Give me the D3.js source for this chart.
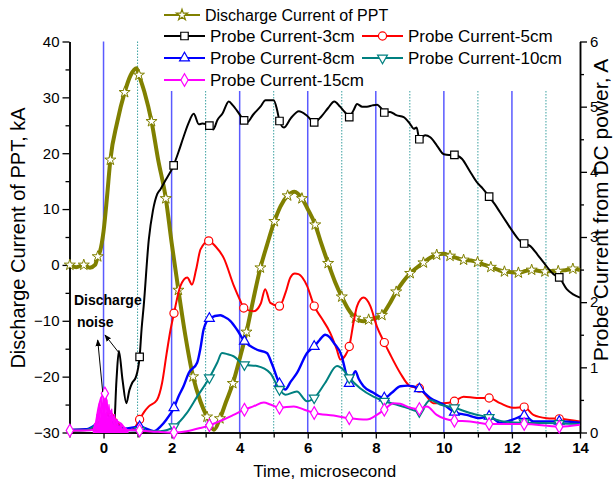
<!DOCTYPE html>
<html><head><meta charset="utf-8">
<script src="https://cdn.jsdelivr.net/npm/d3@7"></script>
<style>body{margin:0;background:#fff} svg{display:block;font-family:"Liberation Sans",Arial,sans-serif}</style>
</head><body><svg id="c" width="613" height="485"></svg>
<script>
// ---- data (time in microseconds) ----
const xTickLabels = [0, 2, 4, 6, 8, 10, 12, 14];
const leftTicks = [-30, -20, -10, 0, 10, 20, 30, 40];
const rightTicks = [0, 1, 2, 3, 4, 5, 6];
const evenTimes = [0, 2, 4, 6, 8, 10, 12];
const oddTimes = [1, 3, 5, 7, 9, 11, 13];
const seriesNames = ["Discharge Current of PPT", "Probe Current-3cm", "Probe Current-5cm",
  "Probe Current-8cm", "Probe Current-10cm", "Probe Current-15cm"];
const annotationText = ["Discharge", "noise"];
const xTitle = "Time, microsecond";
const yLeftTitle = "Discharge Current of PPT, kA";
const yRightTitle = "Probe Current from DC power, A";

// [time, value, marker]
const pptCurrent = [[-1,0.2],[-0.99,0,1],[-0.8,-0.4],[-0.58,0,1],[-0.4,-0.5],[-0.25,0],[-0.17,1.5,1],[-0.1,2.5],
 [0,6],[0.1,12],[0.2,18.8,1],[0.4,25.5],[0.62,30.9,1],[0.8,34],[0.97,35.2],[1.04,34,1],[1.2,31],[1.41,25.7,1],
 [1.6,19],[1.83,11.9,1],[2.0,4],[2.2,-4.5,1],[2.4,-12.5],[2.63,-20,1],[2.85,-24.5],[3.04,-27.2,1],[3.25,-29.5],
 [3.42,-27.5,1],[3.6,-24.5],[3.8,-21.2,1],[4.0,-16.8],[4.2,-12,1],[4.4,-6.2],[4.61,-0.5,1],[4.8,3.5],[5.02,7.8,1],
 [5.2,10.5],[5.41,12.4,1],[5.61,13.1],[5.83,11.9,1],[6.0,10],[6.22,7.2,1],[6.4,3.8],[6.6,0.3,1],[6.8,-3],
 [7.0,-5.7,1],[7.2,-8],[7.4,-9.5,1],[7.64,-10.1],[7.79,-9.8,1],[8.0,-9.5],[8.18,-9,1],[8.4,-7],[8.6,-4.8,1],
 [8.8,-3],[9.01,-1.5,1],[9.2,-0.5],[9.4,0.4,1],[9.6,1.3],[9.79,1.8,1],[10.0,2],[10.18,1.6,1],[10.4,1.2],
 [10.58,0.9,1],[10.8,0.8],[10.99,0.5,1],[11.2,0],[11.38,-0.4,1],[11.6,-0.9],[11.78,-1.2,1],[12.0,-1.3],
 [12.19,-1.4,1],[12.4,-1.1],[12.58,-0.9,1],[12.8,-1.1],[12.97,-1.2,1],[13.2,-1.1],[13.36,-1.1,1],[13.6,-0.9],
 [13.79,-0.7,1],[14,-0.9]];

const probe3cm = [[-1,0.04],[-0.5,0.05],[-0.2,0.06],[0,0.1],[0.1,0.3],[0.2,0.15],[0.3,0.02],[0.38,0.8],[0.45,1.25],
 [0.56,0.8],[0.67,0.45],[0.76,0.65],[0.84,0.76],[0.95,0.85],[1.06,1.16,1],[1.12,1.6],[1.18,1.94],[1.33,2.96],
 [1.45,3.4],[1.58,3.66],[1.67,3.73],[1.8,3.85],[2.06,4.1,1],[2.2,4.3],[2.36,4.55],[2.5,4.75],[2.65,4.89],[2.8,4.73],
 [2.9,4.74],[3.11,4.71,1],[3.22,4.65],[3.35,4.8],[3.5,4.9],[3.68,5.08],[3.8,5.02],[3.92,4.94],[4.13,4.79,1],
 [4.22,4.76],[4.4,4.88],[4.61,5.0],[4.76,5.1],[5.0,5.1],[5.1,4.95],[5.17,4.78,1],[5.3,4.68],[5.5,4.82],[5.74,4.93],
 [5.98,4.86],[6.19,4.76,1],[6.4,4.85],[6.6,4.98],[6.78,5.08],[6.95,5.0],[7.1,4.91],[7.22,4.84,1],[7.35,4.95],
 [7.45,5.04],[7.6,5.0],[7.74,5.0],[7.9,5.02],[8.04,5.03],[8.15,4.98],[8.25,4.91,1],[8.42,4.92],[8.6,4.87],
 [8.82,4.84],[9.0,4.74],[9.12,4.66],[9.2,4.68],[9.28,4.5,1],[9.45,4.56],[9.6,4.53],[9.8,4.4],[10.0,4.27],
 [10.15,4.26],[10.31,4.26,1],[10.53,4.2],[10.75,4.02],[10.97,3.84],[11.15,3.74],[11.33,3.62,1],[11.5,3.5],
 [11.65,3.38],[11.85,3.22],[12.04,3.07],[12.2,2.96],[12.36,2.9,1],[12.54,2.86],[12.75,2.73],[12.93,2.61],
 [13.22,2.43],[13.39,2.38,1],[13.61,2.2],[13.8,2.12],[14,2.07]];

const probe5cm = [[-1,0.03],[-0.5,0.04],[-0.2,0.05],[0.05,0.25],[0.2,0.3],[0.4,0.17],[0.6,0.06],[0.8,0.04],
 [0.95,0.1],[1.06,0.2,1],[1.2,0.32],[1.33,0.4],[1.57,0.5],[1.72,0.76],[1.85,1.2],[1.97,1.58],[2.07,1.83,1],
 [2.26,2.25],[2.46,2.38],[2.6,2.27],[2.72,2.5],[2.85,2.81],[3.09,2.94,1],[3.3,2.85],[3.53,2.68],[3.83,2.25],
 [4.02,2.02],[4.12,1.91,1],[4.41,1.86],[4.62,1.98],[4.75,2.2],[4.9,1.99],[5.17,1.94,1],[5.35,2.15],[5.49,2.38],
 [5.62,2.44],[5.73,2.43],[5.98,2.25],[6.19,1.94,1],[6.4,1.76],[6.66,1.53],[6.85,1.28],[6.96,1.12],[7.1,1.18],
 [7.22,1.32,1],[7.35,1.7],[7.45,1.94],[7.64,2.07],[7.84,1.94],[8.03,1.63],[8.25,1.38,1],[8.42,1.2],[8.72,0.91],
 [9.01,0.71],[9.28,0.68,1],[9.5,0.55],[9.69,0.45],[9.99,0.45],[10.31,0.48,1],[10.58,0.55],[10.97,0.53],
 [11.33,0.53,1],[11.65,0.45],[12.04,0.38],[12.36,0.39,1],[12.63,0.27],[13.02,0.22],[13.39,0.21,1],[14,0.17]];

const probe8cm = [[-1,0.04],[-0.5,0.05],[0.05,0.2],[0.3,0.15],[0.6,0.06],[1.06,0.09,1],[1.48,0.02],[1.67,0.09],
 [1.85,0.2],[2.07,0.38,1],[2.2,0.55],[2.35,0.71],[2.5,0.91],[2.75,1.07],[2.85,1.3],[2.94,1.58],[3.11,1.75,1],
 [3.43,1.8],[3.53,1.78],[3.73,1.71],[3.92,1.58],[4.14,1.4,1],[4.3,1.33],[4.51,1.27],[4.8,1.22],[4.95,1.05],
 [5.17,0.75,1],[5.34,0.66],[5.5,0.78],[5.68,0.91],[5.98,1.22],[6.19,1.32,1],[6.35,1.42],[6.51,1.5],[6.65,1.46],
 [6.76,1.38],[7.0,1.17],[7.1,0.96],[7.22,0.75,1],[7.4,0.94],[7.5,0.82],[7.64,0.71],[7.93,0.61],[8.25,0.53,1],
 [8.47,0.61],[8.72,0.71],[8.95,0.72],[9.28,0.67,1],[9.6,0.53],[9.99,0.43],[10.31,0.31,1],[10.67,0.27],
 [11.06,0.22],[11.33,0.25,1],[11.65,0.15],[12.04,0.2],[12.36,0.26,1],[12.63,0.17],[13.0,0.17],[13.39,0.17,1],[14,0.15]];

const probe10cm = [[-1,0.03],[-0.5,0.04],[0.05,0.2],[0.3,0.12],[0.6,0.04],[1.06,0.03,1],[1.67,0.02],[2.07,0.09,1],
 [2.45,0.3],[2.75,0.55],[3.11,0.84,1],[3.34,1.07],[3.48,1.22],[3.65,1.2],[3.82,1.17],[4.14,1.04,1],[4.51,1.02],
 [4.9,0.91],[5.17,0.66,1],[5.34,0.58],[5.68,0.63],[5.98,0.48],[6.19,0.53,1],[6.51,0.76],[6.86,1.02],[7.05,0.96],
 [7.22,0.84,1],[7.54,0.68],[7.93,0.55],[8.25,0.48,1],[8.6,0.43],[8.91,0.38],[9.28,0.32,1],[9.6,0.5],[9.89,0.43],
 [10.31,0.38,1],[10.77,0.3],[11.33,0.23,1],[11.75,0.17],[12.36,0.15,1],[13.39,0.14,1],[14,0.13]];

const probe15cm = [[-1,0.03],[-0.99,0.03,1],[-0.5,0.03],[-0.28,0.05],[-0.14,0.4],[-0.07,0.53],[0.04,0.6,1],
 [0.11,0.4],[0.2,0.32],[0.3,0.22],[0.5,0.14],[0.7,0.04],[1.06,0.03,1],[1.6,0.01],[2.07,0.0,1],[2.45,0.02],
 [2.85,0.07],[3.11,0.11,1],[3.53,0.2],[3.82,0.27],[4.14,0.35,1],[4.4,0.4],[4.71,0.46],[4.9,0.43],[5.17,0.38,1],
 [5.59,0.4],[5.9,0.35],[6.19,0.3,1],[6.76,0.26],[7.22,0.22,1],[7.74,0.2],[8.03,0.27],[8.25,0.35,1],[8.52,0.45],
 [8.72,0.44],[9.01,0.38],[9.28,0.36,1],[9.5,0.4],[9.79,0.27],[10.31,0.18,1],[10.77,0.17],[11.33,0.13,1],
 [12.36,0.13,1],[13.39,0.09,1],[14,0.12]];

// discharge noise burst on the 15cm trace (dense oscillation), A
const noiseBurst = [[-0.3,0.03],[-0.26,0.14],[-0.23,0.06],[-0.19,0.28],[-0.16,0.12],[-0.13,0.44],[-0.1,0.22],
 [-0.07,0.54],[-0.04,0.3],[-0.01,0.57],[0.04,0.62],[0.07,0.28],[0.1,0.5],[0.13,0.22],[0.16,0.43],[0.2,0.16],
 [0.24,0.36],[0.28,0.11],[0.32,0.28],[0.36,0.08],[0.4,0.2],[0.45,0.05],[0.5,0.14],[0.56,0.04],[0.62,0.08],[0.72,0.02]];

// ---- drawing ----
const svg = d3.select("#c");
const x = d3.scaleLinear().domain([-1, 14]).range([69.5, 580]);
const yL = d3.scaleLinear().domain([-30, 40]).range([432.5, 41.5]);
const yR = d3.scaleLinear().domain([0, 6]).range([432.5, 41.5]);
const FONT = '"Liberation Sans", Arial, sans-serif';

// vertical reference lines
const topFull = yL(40), topCut = 91;
svg.append("g").selectAll("line").data(evenTimes).join("line")
  .attr("x1", d => x(d)).attr("x2", d => x(d))
  .attr("y1", d => d < 1 ? topFull : topCut).attr("y2", yL(-30))
  .attr("stroke", "#5a5aff").attr("stroke-width", 1.5);
svg.append("g").selectAll("line").data(oddTimes).join("line")
  .attr("x1", d => x(d)).attr("x2", d => x(d))
  .attr("y1", d => d < 2 ? topFull : topCut).attr("y2", yL(-30))
  .attr("stroke", "#3aa0a0").attr("stroke-width", 1).attr("stroke-dasharray", "1.5,1.5");

// axes
function styleAxis(g, fs, bold) {
  g.select(".domain").attr("stroke", "#000").attr("stroke-width", 1.5);
  g.selectAll(".tick line").attr("stroke", "#000").attr("stroke-width", 1.3);
  g.selectAll(".tick text").attr("fill", "#000").style("font-family", FONT)
    .style("font-size", fs + "px").style("font-weight", bold ? "bold" : "normal");
}
const minorL = d3.range(-30, 41, 5).filter(v => v % 10 !== 0);
svg.append("g").attr("transform", `translate(${x(-1)},0)`)
  .call(d3.axisLeft(yL).tickValues(minorL).tickSize(4).tickFormat("").tickSizeOuter(0))
  .call(g => styleAxis(g, 14));
svg.append("g").attr("transform", `translate(${x(-1)},0)`)
  .call(d3.axisLeft(yL).tickValues(leftTicks).tickSize(7).tickPadding(3).tickSizeOuter(0))
  .call(g => styleAxis(g, 15));
const minorR = d3.range(0.5, 6, 1);
svg.append("g").attr("transform", `translate(${x(14)},0)`)
  .call(d3.axisRight(yR).tickValues(minorR).tickSize(4).tickFormat("").tickSizeOuter(0))
  .call(g => styleAxis(g, 14));
svg.append("g").attr("transform", `translate(${x(14)},0)`)
  .call(d3.axisRight(yR).tickValues(rightTicks).tickSize(7).tickPadding(3).tickSizeOuter(0)
    .tickFormat(d3.format("d")))
  .call(g => styleAxis(g, 15));
svg.append("g").attr("transform", `translate(0,${yL(-30)})`)
  .call(d3.axisBottom(x).tickValues(d3.range(-1, 14, 2)).tickSize(5).tickFormat("").tickSizeOuter(0))
  .call(g => styleAxis(g, 14));
svg.append("g").attr("transform", `translate(0,${yL(-30)})`)
  .call(d3.axisBottom(x).tickValues(xTickLabels).tickSize(6).tickPadding(4).tickSizeOuter(0))
  .call(g => styleAxis(g, 15, true));

// titles
svg.append("text").attr("x", (x(-1) + x(14)) / 2).attr("y", 477).attr("text-anchor", "middle")
  .style("font-family", FONT).style("font-size", "17px").text(xTitle);
svg.append("text").attr("transform", "translate(25,238) rotate(-90)").attr("text-anchor", "middle")
  .style("font-family", FONT).style("font-size", "20px").text(yLeftTitle);
svg.append("text").attr("transform", "translate(608,210) rotate(-90)").attr("text-anchor", "middle")
  .style("font-family", FONT).style("font-size", "21px").text(yRightTitle);

// markers
const star = d3.symbol().type(d3.symbolStar).size(38);
const sq = d3.symbol().type(d3.symbolSquare).size(56);
const circ = d3.symbol().type(d3.symbolCircle).size(52);
const tri = d3.symbol().type(d3.symbolTriangle).size(42);
const dia = d3.symbol().type(d3.symbolDiamond).size(46);

const series = [
  {data: pptCurrent, y: yL, color: "#808000", width: 4, sym: star, rot: 0, mstroke: 1},
  {data: probe3cm, y: yR, color: "#000000", width: 2, sym: sq, rot: 0, mstroke: 1.2},
  {data: probe5cm, y: yR, color: "#ff0000", width: 2, sym: circ, rot: 0, mstroke: 1.2},
  {data: probe8cm, y: yR, color: "#0000ff", width: 2.4, sym: tri, rot: 0, mstroke: 1.2},
  {data: probe10cm, y: yR, color: "#008080", width: 2, sym: tri, rot: 180, mstroke: 1.2},
  {data: probe15cm, y: yR, color: "#ff00ff", width: 2, sym: dia, rot: 0, mstroke: 1.2}
];

series.forEach((s, i) => {
  const line = d3.line().x(d => x(d[0])).y(d => s.y(d[1])).curve(d3.curveMonotoneX);
  const g = svg.append("g");
  if (i === 5) {
    g.append("path").datum(noiseBurst)
      .attr("d", d3.area().x(d => x(d[0])).y0(yR(0)).y1(d => yR(d[1])))
      .attr("fill", "#ff00ff").attr("stroke", "#ff00ff").attr("stroke-width", 1.2)
      .attr("stroke-linejoin", "round");
  }
  g.append("path").datum(s.data).attr("d", line).attr("fill", "none")
    .attr("stroke", s.color).attr("stroke-width", s.width).attr("stroke-linejoin", "round");
  g.selectAll(".m").data(s.data.filter(d => d[2])).join("path")
    .attr("transform", d => `translate(${x(d[0])},${s.y(d[1])}) rotate(${s.rot})`)
    .attr("d", s.sym()).attr("fill", "#fff").attr("stroke", s.color).attr("stroke-width", s.mstroke);
});

// legend
const legendRows = [
  {col: 0, row: 0}, {col: 0, row: 1}, {col: 1, row: 1}, {col: 0, row: 2}, {col: 1, row: 2}, {col: 0, row: 3}
];
const lg = svg.append("g");
series.forEach((s, i) => {
  const lx = legendRows[i].col === 0 ? 164 : 362;
  const ly = legendRows[i].row === 0 ? 15 : 14 + legendRows[i].row * 22;
  const len = i === 0 ? 36 : 41;
  lg.append("line").attr("x1", lx).attr("x2", lx + len).attr("y1", ly).attr("y2", ly)
    .attr("stroke", s.color).attr("stroke-width", 2);
  lg.append("path").attr("transform", `translate(${lx + len / 2},${ly}) rotate(${s.rot})`)
    .attr("d", s.sym()).attr("fill", "#fff").attr("stroke", s.color).attr("stroke-width", 1.2);
  lg.append("text").attr("x", lx + len + 5).attr("y", ly + 6)
    .style("font-family", FONT).style("font-size", i === 0 ? "16px" : "17px").text(seriesNames[i]);
});

// annotation
svg.append("text").attr("x", 74).attr("y", 305).style("font-family", FONT)
  .style("font-size", "14px").style("font-weight", "bold").text(annotationText[0]);
svg.append("text").attr("x", 77).attr("y", 327).style("font-family", FONT)
  .style("font-size", "14px").style("font-weight", "bold").text(annotationText[1]);
const defs = svg.append("defs");
defs.append("marker").attr("id", "ah").attr("viewBox", "0 0 10 10").attr("refX", 9).attr("refY", 5)
  .attr("markerWidth", 7).attr("markerHeight", 7).attr("orient", "auto")
  .append("path").attr("d", "M0,1 L10,5 L0,9 z").attr("fill", "#000");
svg.append("line").attr("x1", 102.7).attr("y1", 392).attr("x2", 97.7).attr("y2", 340)
  .attr("stroke", "#000").attr("stroke-width", 1).attr("marker-end", "url(#ah)");
svg.append("line").attr("x1", 118.3).attr("y1", 352).attr("x2", 105).attr("y2", 335)
  .attr("stroke", "#000").attr("stroke-width", 1).attr("marker-end", "url(#ah)");
</script></body></html>
